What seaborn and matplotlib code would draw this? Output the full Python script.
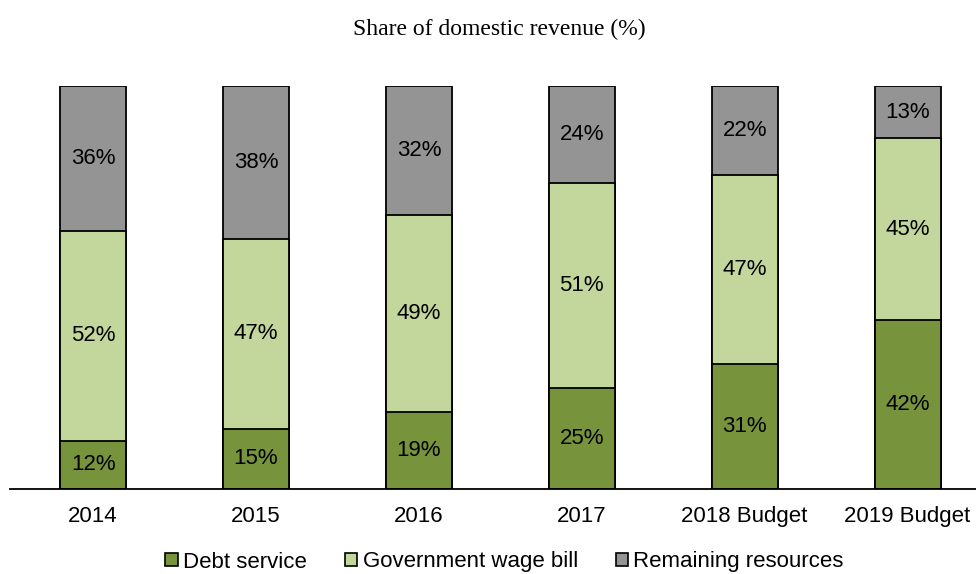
import numpy as np
import pandas as pd
import matplotlib
matplotlib.use("Agg")
import matplotlib.pyplot as plt
import seaborn as sns
from matplotlib.patches import Patch

# Chart data
years = ["2014", "2015", "2016", "2017", "2018 Budget", "2019 Budget"]
debt_service = [12, 15, 19, 25, 31, 42]
wage_bill = [52, 47, 49, 51, 47, 45]
remaining = [36, 38, 32, 24, 22, 13]

series_names = ["Debt service", "Government wage bill", "Remaining resources"]
colors = ["#77933C", "#C3D69B", "#949494"]

df = pd.DataFrame({
    "year": years,
    "debt": debt_service,
    "wage": wage_bill,
    "rest": remaining,
})
df["cum1"] = df["debt"]
df["cum2"] = df["debt"] + df["wage"]
df["cum3"] = df["cum2"] + df["rest"]

sns.set_style("white")
plt.rcParams["font.family"] = ["Liberation Sans", "DejaVu Sans"]
plt.rcParams["text.color"] = "black"
plt.rcParams["xtick.color"] = "black"

fig = plt.figure(figsize=(9.76, 5.74), dpi=100)
ax = fig.add_axes([10 / 976, 1 - 489 / 574, 1 - 10 / 976, (489 - 86) / 574])

# stacked bars: draw cumulative totals from the top down
for col, c in zip(["cum3", "cum2", "cum1"], colors[::-1]):
    sns.barplot(data=df, x="year", y=col, color=c, width=0.405,
                edgecolor="black", linewidth=1.3, saturation=1, ax=ax)

# segment labels
for i, row in df.iterrows():
    ax.text(i, row["debt"] / 2, f"{row['debt']}%", ha="center", va="center", fontsize=16)
    ax.text(i, row["cum1"] + row["wage"] / 2, f"{row['wage']}%", ha="center", va="center", fontsize=16)
    ax.text(i, row["cum2"] + row["rest"] / 2, f"{row['rest']}%", ha="center", va="center", fontsize=16)

ax.set_ylim(0, 100)
ax.set_xlim(-0.51, 5.42)
ax.set_xlabel("")
ax.set_ylabel("")
ax.set_yticks([])
for s in ["top", "left", "right"]:
    ax.spines[s].set_visible(False)
ax.spines["bottom"].set_color("black")
ax.spines["bottom"].set_linewidth(1.3)
ax.tick_params(axis="x", length=0, labelsize=16, pad=12, labelcolor="black")

fig.text(0.512, 1 - 29 / 574, "Share of domestic revenue (%)", ha="center", va="center",
         fontsize=17, color="black", family=["Liberation Serif", "DejaVu Serif"])

handles = [Patch(facecolor=c, edgecolor="black", linewidth=1.2) for c in colors]
fig.legend(handles, series_names, loc="center", bbox_to_anchor=(0.517, 1 - 562 / 574),
           ncol=3, frameon=False, fontsize=16, handlelength=0.55, handleheight=0.55,
           handletextpad=0.25, columnspacing=1.7)

fig.savefig("out.png", dpi=100)
